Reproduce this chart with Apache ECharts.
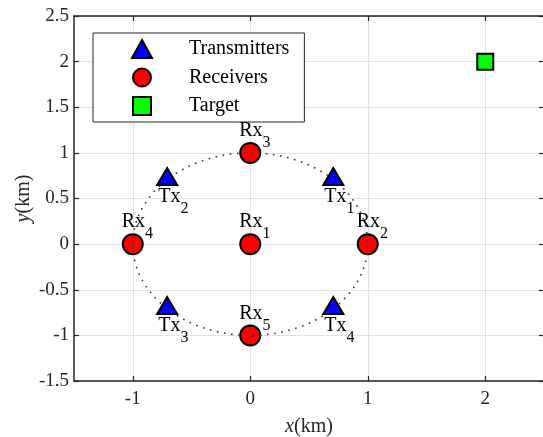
<!DOCTYPE html>
<html><head><meta charset="utf-8">
<script src="https://cdn.jsdelivr.net/npm/echarts@6/dist/echarts.min.js"></script>
<style>html,body{margin:0;padding:0;background:#fff}#c{width:543px;height:437px}</style>
</head><body><div id="c"></div>
<script>
// ---- data ----
const xTicks = [-1, 0, 1, 2];
const txX = [0.707, -0.707, -0.707, 0.707];
const txY = [0.707, 0.707, -0.707, -0.707];
const txSub = ['1', '2', '3', '4'];
const rxX = [0, 1, 0, -1, 0];
const rxY = [0, 0, 1, 0, -1];
const rxSub = ['1', '2', '3', '4', '5'];
const targetX = [2];
const targetY = [2];
const ringCenter = [0, 0];
const ringRadius = [1];

const FONT = 'Liberation Serif';
const AX = '#262626';
const GRID = '#e2e2e2';

const pairs = (xs, ys) => xs.map((x, i) => [x, ys[i]]);

const subRich = {
  m: {fontFamily: FONT, fontSize: 20, lineHeight: 20, color: '#000', verticalAlign: 'top'},
  s: {fontFamily: FONT, fontSize: 16, lineHeight: 16, color: '#000', padding: [14, 0, 0, 0], verticalAlign: 'top'}
};

const chart = echarts.init(document.getElementById('c'), null, {renderer: 'canvas'});
chart.setOption({
  animation: false,
  grid: {left: 74, right: -1, top: 16, bottom: 56, containLabel: false, outerBoundsMode: 'none'},
  xAxis: [{
    type: 'value', min: -1.5, max: 2.5, position: 'bottom',
    axisLine: {show: true, onZero: false, lineStyle: {color: AX, width: 1.5}},
    axisTick: {show: true, inside: true, length: 5, customValues: xTicks, lineStyle: {color: AX, width: 1.2}},
    axisLabel: {show: true, customValues: xTicks, margin: 9, color: AX, fontFamily: FONT, fontSize: 19},
    splitLine: {show: true, lineStyle: {color: GRID, width: 1}},
    name: '{i|x}(km)', nameLocation: 'middle', nameGap: 36, nameMoveOverlap: false,
    nameTextStyle: {fontFamily: FONT, fontSize: 20, color: AX,
      rich: {i: {fontFamily: FONT, fontSize: 20, fontStyle: 'italic', color: AX}}}
  }, {
    type: 'value', min: -1.5, max: 2.5, position: 'top',
    axisLine: {show: true, onZero: false, lineStyle: {color: AX, width: 1.5}},
    axisTick: {show: true, inside: true, length: 5, customValues: xTicks, lineStyle: {color: AX, width: 1.2}},
    axisLabel: {show: false},
    splitLine: {show: false}
  }],
  yAxis: [{
    type: 'value', min: -1.5, max: 2.5, interval: 0.5, position: 'left',
    axisLine: {show: true, onZero: false, lineStyle: {color: AX, width: 1.5}},
    axisTick: {show: true, inside: true, length: 5, lineStyle: {color: AX, width: 1.2}},
    axisLabel: {show: true, margin: 5, color: AX, fontFamily: FONT, fontSize: 19},
    splitLine: {show: true, lineStyle: {color: GRID, width: 1}},
    name: '{i|y}(km)', nameLocation: 'middle', nameGap: 40, nameMoveOverlap: false,
    nameTextStyle: {fontFamily: FONT, fontSize: 20, color: AX,
      rich: {i: {fontFamily: FONT, fontSize: 20, fontStyle: 'italic', color: AX}}}
  }, {
    type: 'value', min: -1.5, max: 2.5, interval: 0.5, position: 'right',
    axisLine: {show: true, onZero: false, lineStyle: {color: AX, width: 1.5}},
    axisTick: {show: true, inside: true, length: 5, lineStyle: {color: AX, width: 1.2}},
    axisLabel: {show: false},
    splitLine: {show: false}
  }],
  legend: {
    orient: 'vertical', left: 93, top: 33,
    padding: [6, 15, 6, 38],
    itemWidth: 20, itemHeight: 18, itemGap: 8.5,
    backgroundColor: '#fff', borderColor: AX, borderWidth: 1, borderRadius: 0,
    itemStyle: {borderColor: '#000', borderWidth: 2},
    textStyle: {fontFamily: FONT, fontSize: 20, color: '#000', lineHeight: 18, padding: [0, 0, 0, 32]},
    data: [
      {name: 'Transmitters'},
      {name: 'Receivers'},
      {name: 'Target', icon: 'path://M0,0L1,0L1,1L0,1Z'}
    ],
    selectedMode: false
  },
  series: [{
    name: 'Transmitters', type: 'scatter', xAxisIndex: 0, yAxisIndex: 0,
    data: pairs(txX, txY), symbol: 'triangle', symbolSize: [20, 17], symbolOffset: [0, -3],
    itemStyle: {color: '#0000ff', borderColor: '#000', borderWidth: 2, opacity: 1},
    emphasis: {disabled: true}, silent: true, z: 3,
    label: {show: true, position: 'inside', align: 'left', verticalAlign: 'top', offset: [-9, 10],
      formatter: p => '{m|Tx}{s|' + txSub[p.dataIndex] + '}', rich: subRich}
  }, {
    name: 'Receivers', type: 'scatter', xAxisIndex: 0, yAxisIndex: 0,
    data: pairs(rxX, rxY), symbol: 'circle', symbolSize: 20,
    itemStyle: {color: '#ff0000', borderColor: '#000', borderWidth: 2, opacity: 1},
    emphasis: {disabled: true}, silent: true, z: 3,
    label: {show: true, position: 'inside', align: 'left', verticalAlign: 'top', offset: [-11, -32],
      formatter: p => '{m|Rx}{s|' + rxSub[p.dataIndex] + '}', rich: subRich}
  }, {
    name: 'Target', type: 'scatter', xAxisIndex: 0, yAxisIndex: 0,
    data: pairs(targetX, targetY), symbol: 'rect', symbolSize: 16,
    itemStyle: {color: '#00ff00', borderColor: '#000', borderWidth: 2, opacity: 1},
    emphasis: {disabled: true}, silent: true, z: 3
  }, {
    name: 'ring', type: 'custom', xAxisIndex: 0, yAxisIndex: 0, silent: true, z: 4,
    data: [[ringCenter[0], ringCenter[1], ringRadius[0]]],
    encode: {x: 0, y: 1},
    renderItem: function (params, api) {
      const c = api.coord([api.value(0), api.value(1)]);
      const s = api.size([api.value(2), api.value(2)]);
      return {
        type: 'ellipse',
        shape: {cx: c[0], cy: c[1], rx: s[0], ry: s[1]},
        style: {fill: 'none', stroke: '#3a3a3a', lineWidth: 1.6, lineDash: [1.6, 5.6]}
      };
    }
  }]
});
</script>
</body></html>
